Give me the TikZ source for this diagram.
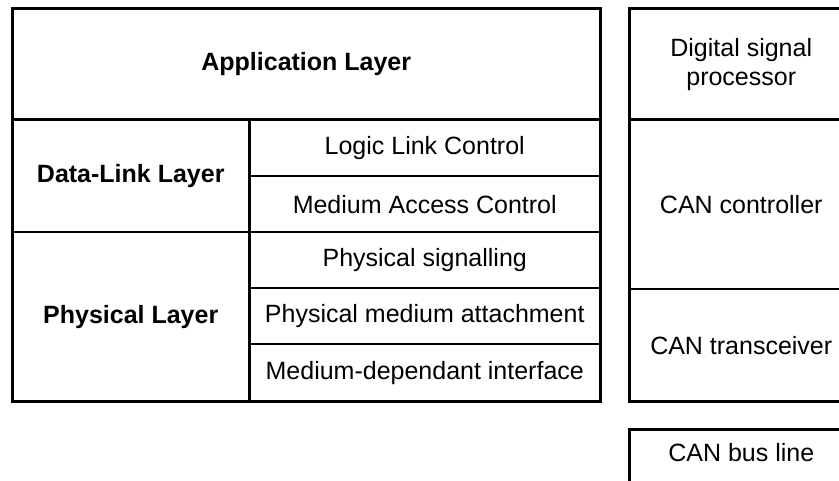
\documentclass[tikz,border=0pt]{standalone}
\usepackage{fontspec}
\setmainfont{Liberation Sans}
\usepackage{tikz}
\usetikzlibrary{calc}

\tikzset{
  layer/.style={draw, line width=2.5pt, inner sep=0pt, anchor=north west, align=center,
                font=\fontsize{25}{29}\selectfont},
  layerbold/.style={layer, font=\fontsize{25}{29}\selectfont\bfseries},
  plain/.style={inner sep=0pt, align=center, font=\fontsize{25}{29}\selectfont}
}

\begin{document}
\begin{tikzpicture}[x=1pt, y=-1pt]
\useasboundingbox (0,0) rectangle (839,481);
\clip (0,0) rectangle (839,481);

% OSI side
\node [layerbold, minimum width=588, minimum height=111] (app) at (11,7.5) {Application Layer};
\node [layerbold, minimum width=237, minimum height=112.5] (dll) at (11,118.5) {Data-Link Layer};
\node [layer, minimum width=351, minimum height=56.5] (llc) at (248,118.5) {Logic Link Control};
\node [layer, minimum width=351, minimum height=56] (mac) at (248,175) {Medium Access Control};
\node [layerbold, minimum width=237, minimum height=169] (phl) at (11,231) {Physical Layer};
\node [layer, minimum width=351, minimum height=56] (ps) at (248,231) {Physical signalling};
\node [layer, minimum width=351, minimum height=56] (pma) at (248,287) {Physical medium attachment};
\node [layer, minimum width=351, minimum height=57] (mdi) at (248,343) {Medium-dependant interface};

% hardware side
\node [layer, minimum width=224, minimum height=111] (dsp) at (628,7.5) {Digital signal\\processor};
\node [layer, minimum width=224, minimum height=169.5] (ctrl) at (628,118.5) {CAN controller};
\node [layer, minimum width=224, minimum height=112] (trx) at (628,288) {CAN transceiver};
\node [layer, minimum width=224, minimum height=70] (bus) at (628,428) {};
\node [plain] (bustxt) at ($(bus.north)+(0,25)$) {CAN bus line};
\end{tikzpicture}
\end{document}
